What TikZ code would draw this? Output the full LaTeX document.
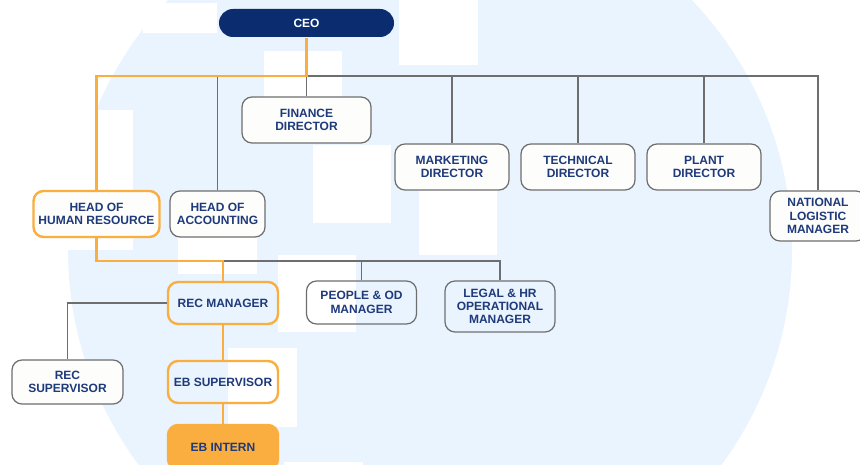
\documentclass[tikz,border=0pt]{standalone}
\usepackage{fontspec}
\setmainfont{Liberation Sans}
\definecolor{bgblue}{RGB}{234,244,254}
\definecolor{navy}{RGB}{11,45,111}
\definecolor{textblue}{RGB}{30,58,123}
\definecolor{linegray}{RGB}{110,110,110}
\definecolor{orangeln}{RGB}{249,174,63}
\definecolor{boxwhite}{RGB}{253,253,252}
\begin{document}
\begin{tikzpicture}[x=1pt,y=-1pt,
  box/.style={draw=linegray, line width=1.2pt, rounded corners=10pt, fill=boxwhite,
    text=textblue, font=\bfseries\fontsize{12}{13.3}\selectfont, align=center,
    inner sep=0pt, minimum height=46pt},
  clearbox/.style={box, fill=none},
  hlbox/.style={box, fill=none, draw=orangeln, line width=2.4pt},
  gline/.style={draw=linegray, line width=1.2pt},
  oline/.style={draw=orangeln, line width=2.6pt},
  whiteblk/.style={fill=white, draw=none}]
\useasboundingbox (0,0) rectangle (860,465);
\clip (0,0) rectangle (860,465);
\fill[white] (0,0) rectangle (860,465);
% background circle
\fill[bgblue] (430,250) circle [radius=362];
% faint building blocks
\fill[whiteblk] (143,3) rectangle (217,33);
\fill[whiteblk] (60,110) rectangle (133,250);
\fill[whiteblk] (264,51) rectangle (342,143);
\fill[whiteblk] (313,145) rectangle (391,223);
\fill[whiteblk] (399,0) rectangle (478,65);
\fill[whiteblk] (419,190) rectangle (497,255);
\fill[whiteblk] (178,230) rectangle (257,274);
\fill[whiteblk] (278,255) rectangle (356,332);
\fill[whiteblk] (228,348) rectangle (297,427);
\fill[whiteblk] (284,462) rectangle (363,470);
% coordinates for buses
\coordinate (busA) at (0,76);
\coordinate (busB) at (0,261);
% nodes
\node[box, fill=navy, draw=none, text=white, rounded corners=14pt, minimum width=175pt, minimum height=28pt] (ceo) at (306.5,23) {CEO};
\node[box, minimum width=129pt] (fin) at (306.5,120) {FINANCE\\DIRECTOR};
\node[box, minimum width=114pt] (mkt) at (452,167) {MARKETING\\DIRECTOR};
\node[box, minimum width=114pt] (tec) at (578,167) {TECHNICAL\\DIRECTOR};
\node[box, minimum width=114pt] (pla) at (704,167) {PLANT\\DIRECTOR};
\node[box, minimum width=96pt, minimum height=50pt] (nat) at (818,216) {NATIONAL\\LOGISTIC\\MANAGER};
\node[hlbox, fill=boxwhite, minimum width=126pt] (hr) at (96.5,214) {HEAD OF\\HUMAN RESOURCE};
\node[box, minimum width=95pt] (acc) at (217.5,214) {HEAD OF\\ACCOUNTING};
\node[hlbox, minimum width=110pt, minimum height=42pt] (recm) at (223,303) {REC MANAGER};
\node[clearbox, minimum width=110pt, minimum height=43pt] (ppl) at (361.5,302.5) {PEOPLE \& OD\\MANAGER};
\node[clearbox, minimum width=110pt, minimum height=51pt] (leg) at (500,306.5) {LEGAL \& HR\\OPERATIONAL\\MANAGER};
\node[box, fill=boxwhite, minimum width=111pt, minimum height=44pt] (recs) at (67.5,382) {REC\\SUPERVISOR};
\node[hlbox, minimum width=110pt, minimum height=42pt] (ebs) at (223,382) {EB SUPERVISOR};
\node[box, fill=orangeln, draw=orangeln, line width=2.4pt, minimum width=110pt, minimum height=44pt] (ebi) at (223,447) {EB INTERN};
% gray connectors
\draw[gline] (ceo.south |- busA) -| (nat.north);
\draw[gline] (fin.north |- busA) -- (fin.north);
\draw[gline] (acc.north |- busA) -- (acc.north);
\draw[gline] (mkt.north |- busA) -- (mkt.north);
\draw[gline] (tec.north |- busA) -- (tec.north);
\draw[gline] (pla.north |- busA) -- (pla.north);
\draw[gline] (recm.north |- busB) -| (leg.north);
\draw[gline] (ppl.north |- busB) -- (ppl.north);
\draw[gline] (recm.west) -| (recs.north);
% orange connectors
\draw[oline] (ceo.south) -- (ceo.south |- busA) -| (hr.north);
\draw[oline] (hr.south) -- (hr.south |- busB) -| (recm.north);
\draw[oline] (recm.south) -- (ebs.north);
\draw[oline] (ebs.south) -- (ebi.north);
\end{tikzpicture}
\end{document}
